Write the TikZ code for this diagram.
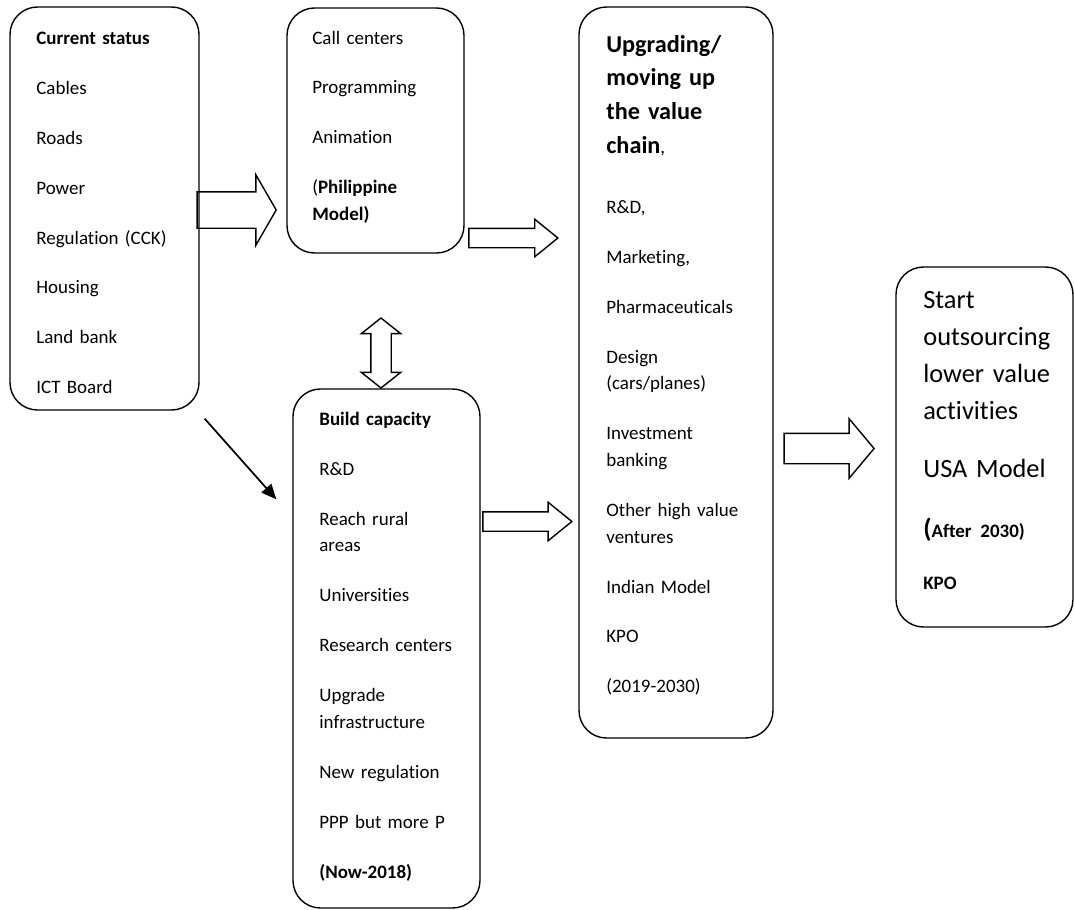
\documentclass[tikz,border=0pt]{standalone}
\usepackage{fontspec}
\setmainfont{Carlito}[Ligatures=NoCommon]
\usetikzlibrary{shapes.arrows,arrows.meta}

\tikzset{
  box/.style={draw, rounded corners=5.5mm, line width=0.8pt, inner sep=0pt},
  txt/.style={anchor=north west, inner sep=0pt, text width=32mm, align=left,
    font=\fontsize{10.8}{15.2}\selectfont},
  fat/.style={draw, single arrow, line width=0.8pt, inner xsep=0pt, anchor=tip},
  fatdbl/.style={draw, double arrow, line width=0.8pt, inner xsep=0pt, anchor=center},
}
\newcommand{\nxt}{\\[13.2pt]}

\begin{document}
\begin{tikzpicture}[x=0.2mm, y=-0.2mm, >={Triangle[length=3mm,width=2.6mm]}]
\useasboundingbox (0,0) rectangle (1074,909);
% boxes
\node[box, minimum width=37.8mm, minimum height=80.6mm] (cur) at (104.5,208.5) {};
\node[box, minimum width=35.4mm, minimum height=49mm] (call) at (375.5,130.5) {};
\node[box, minimum width=38.8mm, minimum height=146.2mm] (upg) at (676,372.5) {};
\node[box, minimum width=37.4mm, minimum height=103.8mm] (build) at (386.5,648.5) {};
\node[box, minimum width=35.4mm, minimum height=72mm] (usa) at (984.5,447) {};
% texts
\node[txt] (curtxt) at (36,25.4) {\strut\textbf{Current status}\nxt Cables\nxt Roads\nxt Power\nxt
  Regulation (CCK)\nxt Housing\nxt Land bank\nxt ICT Board};
\node[txt] (calltxt) at (312,25) {\strut Call centers\nxt Programming\nxt Animation\nxt
  (\textbf{Philippine}\\\textbf{Model)}};
\node[txt] (buildtxt) at (319,406.4) {\strut\textbf{Build capacity}\nxt R\&D\nxt Reach rural\\areas\nxt
  Universities\nxt Research centers\nxt Upgrade\\infrastructure\nxt New regulation\nxt
  PPP but more P\nxt \textbf{(Now-2018)}};
\node[txt, font=\fontsize{13.8}{19.1}\selectfont\bfseries] (upghead) at (606,28.5) {\strut Upgrading/\\
  moving up\\the value\\chain\mdseries\fontsize{10.8}{19.1}\selectfont,};
\node[txt] (upgtxt) at (606,194.4) {\strut R\&D,\nxt Marketing,\nxt Pharmaceuticals\nxt
  Design\\(cars/planes)\nxt Investment\\banking\nxt Other high value\\ventures\nxt
  Indian Model\nxt KPO\nxt (2019-2030)};
\node[txt, font=\fontsize{15}{21}\selectfont] (usatxt) at (923,282.2) {\strut Start\\outsourcing\\
  lower value\\activities\\[12.5pt] USA Model\\[13.1pt]
  \textbf{(}{\fontsize{10.8}{21}\selectfont\textbf{After 2030)}}\\[8.5pt]
  \fontsize{10.8}{21}\selectfont\bfseries KPO};
% block arrows
\node[fat, inner ysep=3.5mm, minimum height=15.8mm, single arrow head extend=3.4mm,
  single arrow tip angle=120] (a1) at (277,210) {};
\node[fat, inner ysep=1.8mm, minimum height=17.8mm, single arrow head extend=1.8mm,
  single arrow tip angle=78] (a2) at (559,238) {};
\node[fat, inner ysep=1.8mm, minimum height=17.8mm, single arrow head extend=1.9mm,
  single arrow tip angle=78] (a3) at (573,521.5) {};
\node[fat, inner ysep=2.9mm, minimum height=18mm, single arrow head extend=2.9mm,
  single arrow tip angle=100] (a4) at (875,448.5) {};
\node[fatdbl, rotate=90, inner ysep=1.9mm, minimum height=14mm, double arrow head extend=1.9mm,
  double arrow tip angle=103] (da) at (381,353) {};
% thin arrow
\coordinate (d1) at ([shift={(5,8)}]cur.south east);
\coordinate (d2) at ([shift={(-16,111)}]build.north west);
\draw[->, line width=1pt] (d1) -- (d2);
\end{tikzpicture}
\end{document}
